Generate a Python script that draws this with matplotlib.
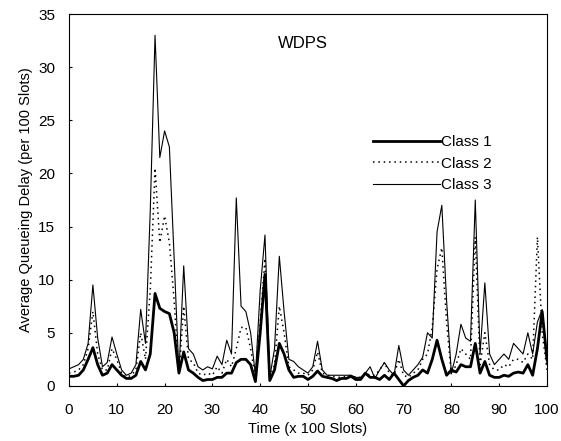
import numpy as np
import matplotlib
matplotlib.use("Agg")
import matplotlib.pyplot as plt

plt.rcParams['font.family'] = ['Liberation Sans', 'DejaVu Sans']

# time axis (x 100 slots)
t = np.arange(0, 101)

# Class 1 (thick solid)
class1 = [0.9, 0.9, 1.0, 1.5, 2.5, 3.6, 2.0, 1.0, 1.2, 2.0,
          1.5, 1.0, 0.7, 0.7, 1.0, 2.3, 1.5, 3.0, 8.7, 7.3,
          7.0, 6.8, 5.0, 1.2, 3.2, 1.5, 1.2, 0.8, 0.5, 0.6,
          0.6, 0.8, 0.8, 1.2, 1.2, 2.2, 2.5, 2.5, 2.0, 0.4,
          5.0, 10.5, 0.5, 1.5, 4.0, 3.0, 1.5, 0.8, 0.9, 0.9,
          0.6, 0.9, 1.4, 0.9, 0.8, 0.7, 0.5, 0.7, 0.7, 0.9,
          0.6, 0.6, 1.2, 0.8, 0.8, 0.6, 1.0, 0.6, 1.2, 0.6,
          0.0, 0.5, 0.8, 1.0, 1.5, 1.2, 2.5, 4.3, 2.5, 1.0,
          1.5, 1.3, 2.0, 1.8, 1.8, 4.0, 1.2, 2.3, 1.0, 0.8,
          0.8, 1.0, 0.9, 1.2, 1.3, 1.2, 2.0, 1.0, 3.5, 7.0,
          2.5]

# Class 2 (dotted)
class2 = [1.2, 1.3, 1.5, 2.0, 3.5, 7.0, 3.0, 1.5, 1.5, 3.5,
          2.5, 1.2, 0.8, 1.0, 1.5, 5.0, 2.5, 9.0, 20.5, 13.5,
          16.0, 13.5, 8.0, 1.0, 7.5, 2.5, 2.2, 1.2, 1.0, 1.2,
          1.0, 1.8, 1.2, 2.5, 1.8, 3.5, 5.5, 5.5, 3.5, 0.8,
          6.0, 12.0, 0.8, 2.0, 7.5, 5.0, 1.8, 1.5, 1.2, 1.2,
          1.0, 1.5, 3.2, 1.2, 1.0, 0.9, 0.8, 0.8, 0.9, 1.0,
          0.8, 0.8, 1.2, 1.0, 1.0, 1.5, 2.2, 1.2, 1.0, 2.5,
          1.0, 0.8, 1.2, 1.5, 2.5, 3.0, 5.5, 11.0, 13.0, 6.0,
          1.0, 2.0, 3.5, 3.0, 2.5, 14.0, 2.0, 5.0, 2.0, 1.5,
          1.5, 2.0, 1.8, 2.5, 2.5, 2.2, 3.0, 2.5, 14.0, 5.0,
          1.5]

# Class 3 (thin solid)
class3 = [1.6, 1.8, 2.0, 2.5, 4.0, 9.5, 4.5, 1.8, 2.2, 4.6,
          3.0, 1.5, 1.0, 1.2, 2.0, 7.2, 4.0, 16.5, 33.0, 21.5,
          24.0, 22.5, 12.0, 1.2, 11.3, 3.5, 3.0, 1.8, 1.5, 1.8,
          1.6, 2.8, 2.0, 4.3, 3.0, 17.7, 7.5, 7.0, 5.0, 1.0,
          9.0, 14.2, 0.8, 3.5, 12.2, 7.0, 2.5, 2.3, 1.8, 1.5,
          1.2, 1.8, 4.2, 1.5, 1.0, 1.0, 1.0, 1.0, 1.0, 1.0,
          0.8, 0.8, 1.2, 1.8, 0.7, 1.5, 2.2, 1.5, 1.0, 3.8,
          1.5, 1.0, 1.5, 2.0, 2.7, 5.0, 4.5, 14.5, 17.0, 8.0,
          1.2, 3.0, 5.8, 4.5, 4.2, 17.5, 3.0, 9.7, 3.0, 2.0,
          2.5, 3.0, 2.5, 4.0, 3.5, 3.0, 5.0, 3.0, 6.0, 7.2,
          2.0]

fig = plt.figure(figsize=(5.61, 4.41), dpi=100)
ax = fig.add_axes([0.123, 0.125, 0.852, 0.843])

ax.plot(t, class1, color='black', lw=2.0, label='Class 1')
ax.plot(t, class2, color='black', lw=1.1, linestyle=(0, (1, 2.5)), label='Class 2')
ax.plot(t, class3, color='black', lw=0.8, label='Class 3')

ax.set_xlim(0, 100)
ax.set_ylim(0, 35)
ax.set_xticks(np.arange(0, 101, 10))
ax.set_yticks(np.arange(0, 36, 5))
ax.tick_params(direction='in', length=2, labelsize=11)
ax.tick_params(axis='x', pad=12)
ax.tick_params(axis='y', pad=10)
ax.set_xlabel('Time (x 100 Slots)', fontsize=10.5, labelpad=4)
ax.set_ylabel('Average Queueing Delay (per 100 Slots)', fontsize=10.5, labelpad=4)

ax.text(49, 32.2, 'WDPS', fontsize=12, ha='center', va='center')

ax.legend(loc='upper left', bbox_to_anchor=(0.635, 0.675), frameon=False,
          handlelength=4.4, handletextpad=0.1, labelspacing=0.5, fontsize=11,
          borderpad=0, borderaxespad=0)

fig.savefig('out.png', dpi=100)
